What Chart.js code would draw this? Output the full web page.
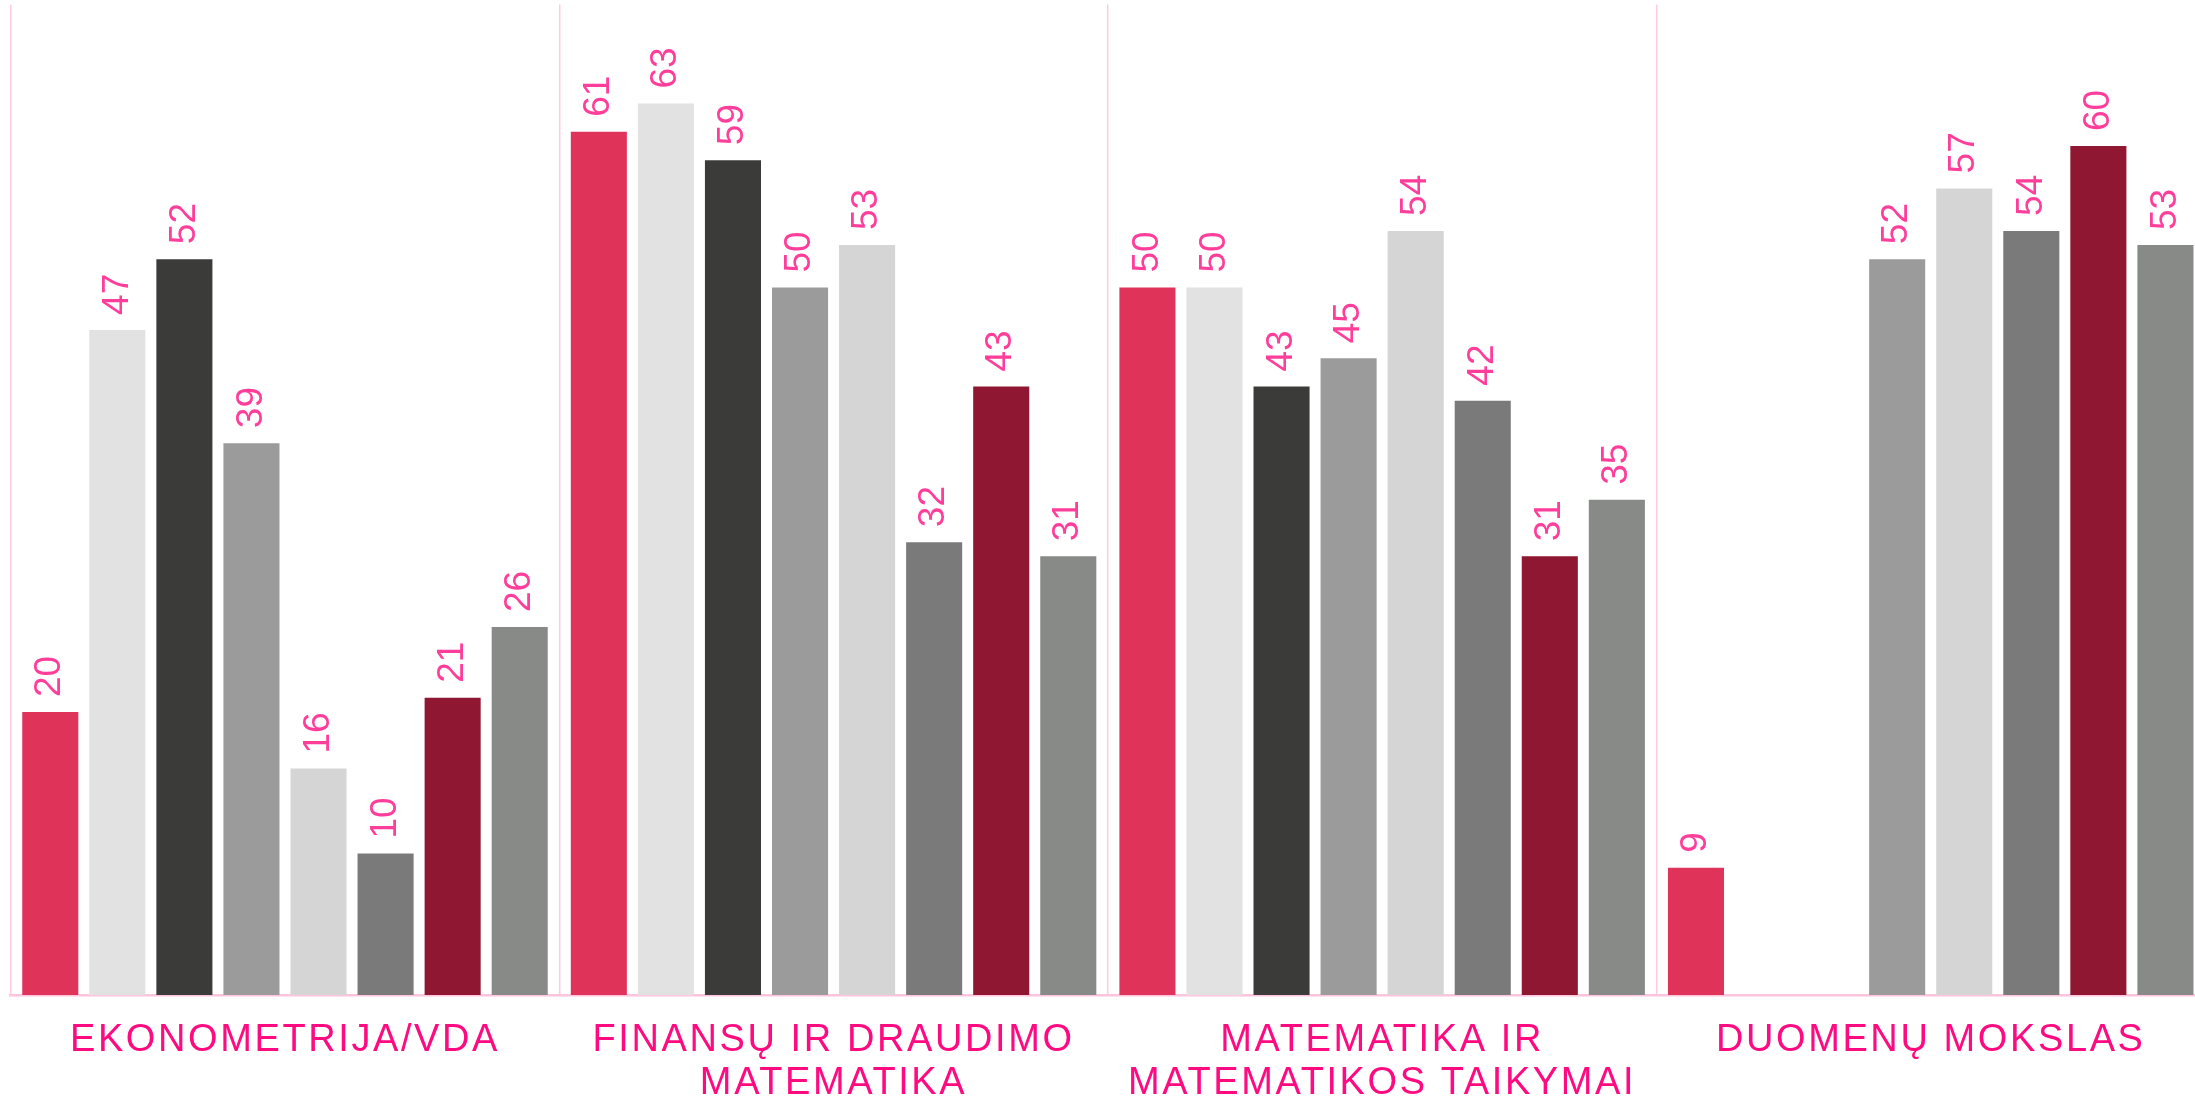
<!DOCTYPE html>
<html>
<head>
<meta charset="utf-8">
<script src="https://cdn.jsdelivr.net/npm/chart.js@4.4.1/dist/chart.umd.min.js"></script>
<style>
  html, body { margin: 0; padding: 0; background: #fff; overflow: hidden; }
</style>
</head>
<body>
<canvas id="barChart" width="2206" height="1101"></canvas>

<script>
// programmes (x categories)
var programmes = [
	['EKONOMETRIJA/VDA'],
	['FINANSŲ IR DRAUDIMO', 'MATEMATIKA'],
	['MATEMATIKA IR', 'MATEMATIKOS TAIKYMAI'],
	['DUOMENŲ MOKSLAS']
]

// eight series, one value per programme (null = no bar)
var s1 = [20, 61, 50, 9]
var s2 = [47, 63, 50, null]
var s3 = [52, 59, 43, null]
var s4 = [39, 50, 45, 52]
var s5 = [16, 53, 54, 57]
var s6 = [10, 32, 42, 54]
var s7 = [21, 43, 31, 60]
var s8 = [26, 31, 35, 53]

var series = [s1, s2, s3, s4, s5, s6, s7, s8]
var colors = ['#e0335a', '#e2e2e2', '#3b3b39', '#9b9b9b', '#d5d5d5', '#7a7a7a', '#8f1731', '#878a86']
var font_family = "'Liberation Sans', Arial, sans-serif"
</script>

<script>
	// value labels, written vertically above each bar
	var valueLabels = {
		id: 'valueLabels',
		beforeDraw: function(chart) {
			chart.ctx.letterSpacing = '2.6px'
		},
		beforeDatasetsDraw: function(chart) {
			chart.ctx.letterSpacing = '0px'
		},
		afterDatasetsDraw: function(chart) {
			var ctx = chart.ctx
			ctx.save()
			ctx.fillStyle = '#ff3d9a'
			ctx.font = '37px ' + font_family
			ctx.textAlign = 'left'
			ctx.textBaseline = 'middle'
			chart.data.datasets.forEach(function(ds, i) {
				var meta = chart.getDatasetMeta(i)
				meta.data.forEach(function(bar, j) {
					var v = ds.data[j]
					if (v === null || v === undefined) return
					ctx.save()
					ctx.translate(bar.x, bar.y - 15)
					ctx.rotate(-Math.PI / 2)
					ctx.fillText(String(v), 0, 0)
					ctx.restore()
				})
			})
			ctx.restore()
		}
	}

	var datasets = series.map(function(d, i) {
		return {
			label: 'S' + (i + 1),
			data: d,
			backgroundColor: colors[i],
			borderWidth: 0,
			barPercentage: 0.836,
			categoryPercentage: 0.978
		}
	})

	var bar_chart = new Chart(document.getElementById('barChart'), {
		type: 'bar',
		data: { labels: programmes, datasets: datasets },
		options: {
			responsive: false,
			animation: false,
			devicePixelRatio: 1,
			layout: { padding: { left: 10.7, right: 1, top: 4.5, bottom: 0 } },
			plugins: {
				legend: { display: false },
				tooltip: { enabled: false }
			},
			scales: {
				x: {
					grid: { color: '#ffcbe2', lineWidth: 1.5, drawTicks: false, offset: true },
					border: { color: '#ffc4de', width: 2.5 },
					ticks: {
						color: '#ff0a80',
						font: { family: font_family, size: 38, lineHeight: 1.13 },
						padding: 24,
						maxRotation: 0,
						autoSkip: false
					},
					afterFit: function(scale) { scale.height = 106 }
				},
				y: {
					display: false,
					min: 0,
					max: 70
				}
			}
		},
		plugins: [valueLabels]
	})
</script>
</body>
</html>
